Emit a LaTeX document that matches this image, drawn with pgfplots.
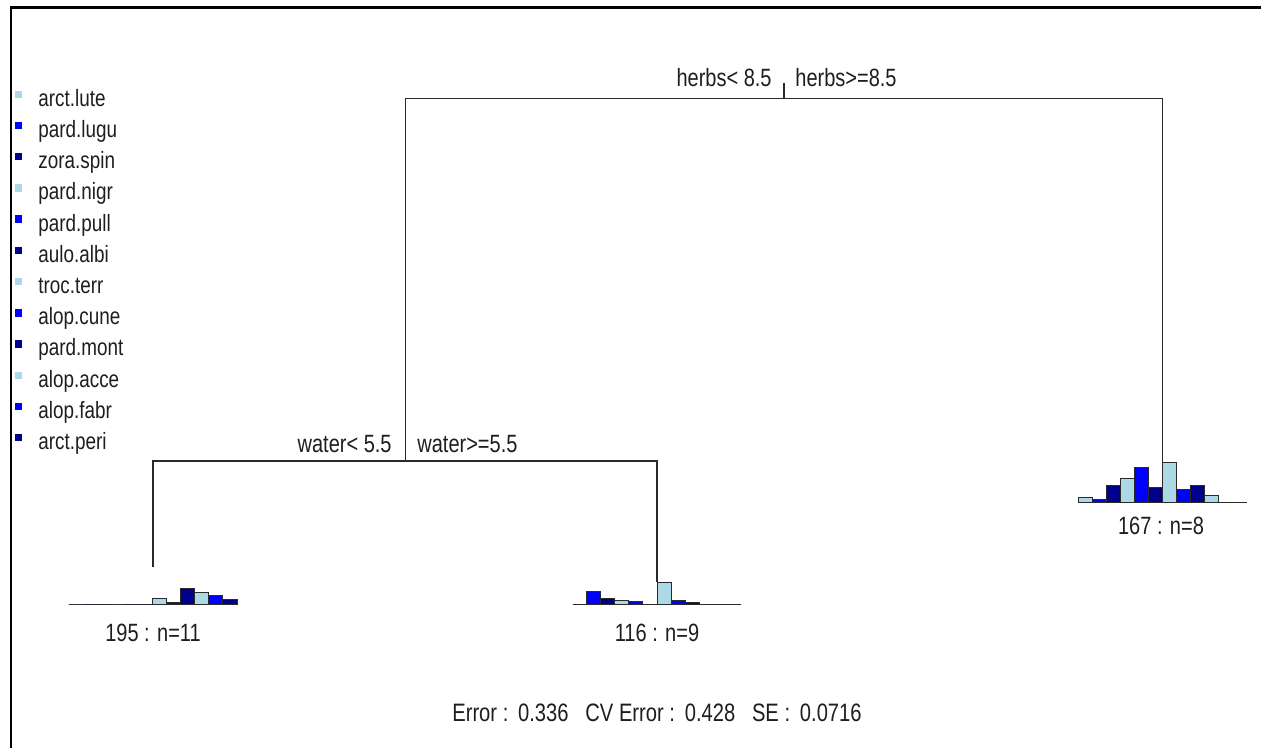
\documentclass[border=0pt]{standalone}
\usepackage{fontspec}
\setmainfont{Liberation Sans}
\newfontfamily\rf[FakeStretch=0.8]{Liberation Sans}
\usepackage{pgfplots}
\pgfplotsset{compat=1.18}
\definecolor{lb}{HTML}{ADD8E6}
\definecolor{bl}{HTML}{0000FF}
\definecolor{nv}{HTML}{00008B}
\definecolor{ln}{HTML}{2A2A2A}
\definecolor{tx}{HTML}{1E1E1E}
\pgfplotsset{
  hist/.style={scale only axis, hide axis, width=84.2pt, height=25pt,
    xmin=0.5, xmax=12.5, ymin=0, ymax=50, anchor=south west, clip=false},
  bars/.style={ybar, bar width=1, bar shift=0, draw=ln, line width=0.5pt},
  tree/.style={ln, line width=0.85pt, sharp plot, mark=none},
}
\begin{document}
\begin{tikzpicture}
\begin{axis}[at={(0,0)}, anchor=south west, scale only axis, hide axis,
  width=630.5pt, height=374pt, xmin=0, xmax=1261, ymin=0, ymax=748,
  y dir=reverse, clip=false]
% frame (top and left edges)
\addplot[black, line width=1.1pt, sharp plot] coordinates {(11,748) (11,7.5) (1261,7.5)};
% tree
\addplot[tree] coordinates {(784,83) (784,98.5)};
\addplot[tree] coordinates {(405.5,461) (405.5,98.5) (1162.5,98.5) (1162.5,462)};
\addplot[tree] coordinates {(152.8,567) (152.8,461) (657,461) (657,582)};
% split labels
\node[font=\rf\fontsize{12.5pt}{14pt}\selectfont, text=tx, anchor=base east, inner sep=0] at (axis cs:772,87) {herbs< 8.5};
\node[font=\rf\fontsize{12.5pt}{14pt}\selectfont, text=tx, anchor=base west, inner sep=0] at (axis cs:795,87) {herbs>=8.5};
\node[font=\rf\fontsize{12.5pt}{14pt}\selectfont, text=tx, anchor=base east, inner sep=0] at (axis cs:392,452) {water< 5.5};
\node[font=\rf\fontsize{12.5pt}{14pt}\selectfont, text=tx, anchor=base west, inner sep=0] at (axis cs:417,452) {water>=5.5};
% leaf labels
\node[font=\rf\fontsize{12.5pt}{14pt}\selectfont, text=tx, anchor=base, inner sep=0] at (axis cs:153,641) {195 : n=11};
\node[font=\rf\fontsize{12.5pt}{14pt}\selectfont, text=tx, anchor=base, inner sep=0] at (axis cs:657,641) {116 : n=9};
\node[font=\rf\fontsize{12.5pt}{14pt}\selectfont, text=tx, anchor=base, inner sep=0] at (axis cs:1161,534) {167 : n=8};
\node[font=\rf\fontsize{12.6pt}{14pt}\selectfont, text=tx, anchor=base, inner sep=0] at (axis cs:657,721) {Error :\ \,0.336\ \ \ CV Error :\ \,0.428\ \ \ SE :\ \,0.0716};
% legend squares
\addplot[only marks, mark=square*, mark size=1.6pt, color=lb] coordinates {(18.5,94.3) (18.5,187.9) (18.5,281.5) (18.5,375.1)};
\addplot[only marks, mark=square*, mark size=1.6pt, color=bl] coordinates {(18.5,125.5) (18.5,219.1) (18.5,312.7) (18.5,406.3)};
\addplot[only marks, mark=square*, mark size=1.6pt, color=nv] coordinates {(18.5,156.7) (18.5,250.3) (18.5,343.9) (18.5,437.5)};
% legend text
\foreach \lab [count=\i from 0] in {arct.lute,pard.lugu,zora.spin,pard.nigr,pard.pull,aulo.albi,troc.terr,alop.cune,pard.mont,alop.acce,alop.fabr,arct.peri}{
  \edef\temp{\noexpand\node[font=\noexpand\rf\noexpand\fontsize{11.8pt}{13pt}\noexpand\selectfont, text=tx, anchor=base west, inner sep=0] at (axis cs:38,{106.3+31.2*\i}) {\lab};}
  \temp
}
\end{axis}
% histogram 1: 195 : n=11
\begin{axis}[hist, at={(34.3pt,71.5pt)}]
\addplot[ln, line width=0.5pt, sharp plot] coordinates {(0.5,0) (12.5,0)};
\addplot[bars, fill=lb] coordinates {(1,0) (4,0) (7,6.7) (10,12.7)};
\addplot[bars, fill=bl] coordinates {(2,0) (5,0) (8,2.7) (11,9.3)};
\addplot[bars, fill=nv] coordinates {(3,0) (6,0) (9,16.7) (12,5)};
\end{axis}
% histogram 2: 116 : n=9
\begin{axis}[hist, at={(286.4pt,71.85pt)}]
\addplot[ln, line width=0.5pt, sharp plot] coordinates {(0.5,0) (12.5,0)};
\addplot[bars, fill=lb] coordinates {(1,0) (4,3.7) (7,22) (10,0)};
\addplot[bars, fill=bl] coordinates {(2,12.3) (5,2.3) (8,3.7) (11,0)};
\addplot[bars, fill=nv] coordinates {(3,5.7) (6,0) (9,2) (12,0)};
\end{axis}
% histogram 3: 167 : n=8
\begin{axis}[hist, at={(539.15pt,122.85pt)}]
\addplot[ln, line width=0.5pt, sharp plot] coordinates {(0.5,0) (12.5,0)};
\addplot[bars, fill=lb] coordinates {(1,5) (4,24) (7,40) (10,6.3)};
\addplot[bars, fill=bl] coordinates {(2,3) (5,34.3) (8,12.3) (11,0)};
\addplot[bars, fill=nv] coordinates {(3,16.7) (6,14.7) (9,16.7) (12,0)};
\end{axis}
\pgfresetboundingbox
\path[use as bounding box] (0,0) rectangle (630.5pt,374pt);
\end{tikzpicture}
\end{document}
